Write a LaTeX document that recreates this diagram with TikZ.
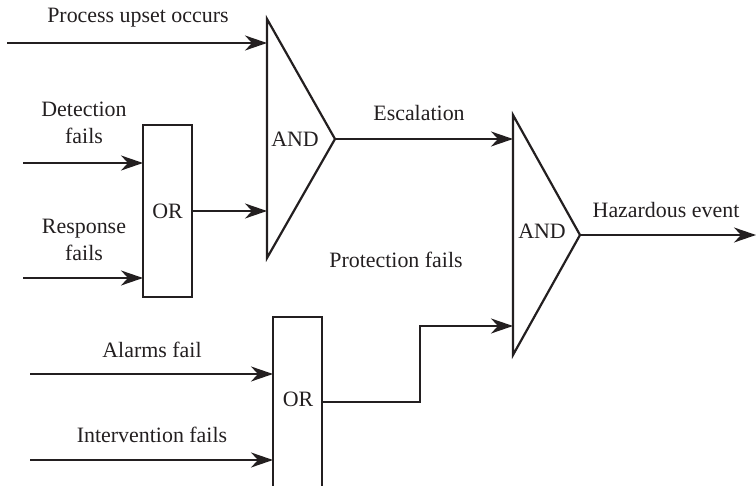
\documentclass[tikz,border=0pt]{standalone}
\usepackage{fontspec}
\setmainfont{Liberation Serif}
\usetikzlibrary{arrows.meta}
\definecolor{ink}{HTML}{231F20}
\begin{document}
\begin{tikzpicture}[x=0.5bp, y=-0.5bp, line width=1bp, draw=ink, text=ink,
  wire/.style={draw=ink, line width=1.1bp,
    -{Stealth[length=11bp, width=7.5bp, inset=3.5bp]}},
  lbl/.style={font=\fontsize{11}{13.5}\selectfont, inner sep=0pt, align=center},
  orgate/.style={draw=ink, line width=1.1bp, minimum width=24.5bp,
    minimum height=86bp, inner sep=0pt, font=\fontsize{11}{13}\selectfont},
  andgate/.style={draw=ink, line width=1.1bp, line join=miter}]
\useasboundingbox (0,0) rectangle (756,486);

% AND gates (drawn as triangles with named corners)
\coordinate (a1t) at (267,19);
\coordinate (a1o) at (335,139);
\coordinate (a1b) at (267,258);
\draw[andgate] (a1t) -- (a1o) -- (a1b) -- cycle;
\node[lbl] (a1l) at (295,139) {AND};

\coordinate (a2t) at (513,115);
\coordinate (a2o) at (580,235);
\coordinate (a2b) at (513,355);
\draw[andgate] (a2t) -- (a2o) -- (a2b) -- cycle;
\node[lbl] (a2l) at (542,231) {AND};

% OR gates
\node[orgate] (o1) at (167.5,211) {OR};
\node[orgate] (o2) at (297.5,403) {};
\node[lbl] (o2l) at (298,399) {OR};

% gate inputs
\coordinate (a1i1) at (267,43);
\coordinate (a1i2) at (267,211);
\coordinate (a2i1) at (513,139);
\coordinate (a2i2) at (513,326);
\coordinate (o1i1) at (143,163);
\coordinate (o1i2) at (143,278);
\coordinate (o2i1) at (273,374);
\coordinate (o2i2) at (273,460);

% free ends of the incoming lines
\coordinate (s1) at (7,43);
\coordinate (s2) at (23,163);
\coordinate (s3) at (23,278);
\coordinate (s4) at (30,374);
\coordinate (s5) at (30,460);
\coordinate (hz) at (756,235);
\coordinate (bend) at (420,402);

% connectors
\draw[wire] (s1) -- (a1i1);
\draw[wire] (s2) -- (o1i1);
\draw[wire] (s3) -- (o1i2);
\draw[wire] (s4) -- (o2i1);
\draw[wire] (s5) -- (o2i2);
\draw[wire] (o1.east) -- (a1i2);
\draw[wire] (a1o) -- (a2i1);
\draw[wire] (a2o) -- (hz);
\draw[wire] (o2.east |- bend) -- (bend) |- (a2i2);

% labels
\node[lbl] (t1) at (138,18) {Process upset occurs};
\node[lbl] (t2) at (84,123) {Detection\\fails};
\node[lbl] (t3) at (84,240) {Response\\fails};
\node[lbl] (t4) at (152,350) {Alarms fail};
\node[lbl] (t5) at (152,435) {Intervention fails};
\node[lbl] (t6) at (419,113) {Escalation};
\node[lbl] (t7) at (396,260) {Protection fails};
\node[lbl] (t8) at (666,210) {Hazardous event};
\end{tikzpicture}
\end{document}
